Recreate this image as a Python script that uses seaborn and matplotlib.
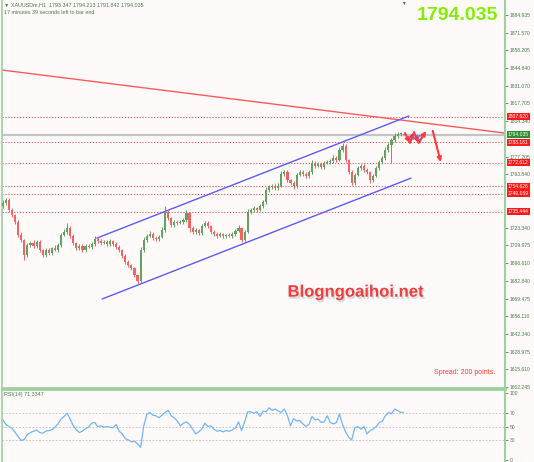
import numpy as np
import pandas as pd
import seaborn as sns
import matplotlib.pyplot as plt
import matplotlib.patheffects as pe
from matplotlib.transforms import blended_transform_factory


# XAUUSDm H1 closes
closes = [
    1742.1, 1744.3, 1736.7, 1732.9, 1727.6, 1717.7, 1713.9, 1702.5, 1710.1, 1711.7,
    1709.4, 1712.4, 1706.3, 1702.5, 1706.3, 1704.0, 1707.8, 1706.3, 1710.1, 1717.7,
    1720.0, 1723.0, 1717.0, 1711.7, 1707.8, 1709.4, 1706.3, 1709.4, 1708.6, 1710.9,
    1714.7, 1713.2, 1711.7, 1712.4, 1710.9, 1713.2, 1710.9, 1708.6, 1706.3, 1701.8,
    1697.2, 1694.9, 1692.6, 1687.3, 1682.8, 1706.3, 1713.9, 1717.0, 1718.5, 1715.5,
    1714.7, 1716.2, 1721.5, 1735.2, 1730.6, 1725.3, 1727.6, 1726.9, 1727.6, 1729.1,
    1734.4, 1723.0, 1720.0, 1721.5, 1719.3, 1724.6, 1726.9, 1724.6, 1720.0, 1718.5,
    1717.0, 1718.5, 1717.0, 1717.7, 1717.0, 1718.5, 1720.8, 1723.0, 1713.9, 1720.0,
    1735.2, 1736.7, 1738.2, 1736.7, 1739.8, 1742.8, 1751.9, 1754.2, 1755.0, 1753.5,
    1755.0, 1764.1, 1765.6, 1759.5, 1757.3, 1755.0, 1763.3, 1765.6, 1764.1, 1762.6,
    1765.6, 1772.5, 1770.2, 1771.7, 1769.4, 1772.5, 1773.2, 1774.0, 1776.3, 1774.7,
    1782.3, 1785.4, 1774.7, 1765.6, 1757.3, 1763.3, 1768.6, 1770.2, 1767.1, 1765.6,
    1759.5, 1762.6, 1768.6, 1773.2, 1776.3, 1782.3, 1786.1, 1789.9, 1793.0, 1794.5,
    1794.5, 1794.035,
]
first_open = 1740.0

upper_wick = [
    2.0, 1.5, 1.2, 1.5, 1.0, 1.5, 2.0, 1.2, 1.8, 1.5,
    2.0, 1.2, 1.5, 1.0, 1.8, 1.5, 1.2, 2.0, 1.5, 1.8,
    2.5, 4.0, 1.5, 1.2, 1.0, 1.5, 1.8, 1.2, 1.5, 1.2,
    2.5, 1.5, 1.2, 1.8, 1.2, 1.5, 1.0, 1.2, 1.5, 1.0,
    1.2, 1.5, 1.0, 1.2, 1.0, 2.0, 2.5, 1.5, 2.0, 1.2,
    1.5, 1.8, 2.0, 4.5, 1.5, 1.2, 1.5, 1.2, 1.8, 1.5,
    2.5, 1.2, 1.5, 1.2, 1.0, 1.8, 1.5, 1.2, 1.0, 1.5,
    1.2, 1.5, 1.0, 1.2, 1.5, 1.2, 1.8, 2.0, 1.2, 1.5,
    2.0, 1.5, 1.8, 1.2, 1.5, 1.8, 2.0, 1.5, 1.8, 1.2,
    2.0, 2.5, 1.5, 1.2, 1.0, 1.5, 1.8, 1.2, 1.5, 1.2,
    1.5, 2.0, 1.2, 1.5, 1.2, 1.5, 1.8, 1.2, 2.0, 1.5,
    2.0, 2.5, 1.2, 1.0, 1.2, 1.5, 1.8, 1.2, 1.5, 1.2,
    1.0, 1.5, 1.8, 1.5, 1.8, 2.0, 1.5, 1.8, 2.0, 1.5,
    1.5, 0.2,
]
lower_wick = [
    1.5, 1.2, 1.8, 1.5, 1.2, 1.5, 1.8, 3.8, 1.2, 1.5,
    1.2, 1.5, 1.8, 1.5, 1.2, 1.5, 1.2, 1.0, 1.5, 1.2,
    1.0, 1.2, 1.5, 1.8, 1.5, 1.2, 1.5, 1.2, 1.0, 1.5,
    1.2, 1.5, 1.2, 1.0, 1.5, 1.2, 1.5, 1.2, 1.5, 1.8,
    1.5, 1.2, 1.8, 1.5, 2.0, 1.2, 1.5, 1.2, 1.0, 1.5,
    1.2, 1.5, 1.0, 1.2, 1.5, 1.8, 1.2, 1.5, 1.0, 1.2,
    1.5, 3.0, 1.5, 1.2, 1.5, 1.2, 1.0, 1.5, 1.2, 1.5,
    1.2, 1.0, 1.5, 1.2, 1.0, 1.5, 1.2, 1.0, 1.5, 1.2,
    1.0, 1.5, 1.2, 1.5, 1.0, 1.2, 1.5, 1.2, 1.5, 1.2,
    1.5, 1.0, 1.2, 1.8, 1.5, 2.0, 1.2, 1.0, 1.5, 1.2,
    1.5, 1.2, 1.5, 1.0, 1.2, 1.5, 1.0, 1.2, 1.5, 1.2,
    1.0, 1.2, 1.5, 1.8, 1.6, 1.2, 1.0, 1.5, 1.2, 1.5,
    2.0, 1.2, 1.0, 1.2, 1.5, 1.2, 1.5, 14.0, 1.2, 1.5,
    1.2, 0.5,
]

rsi_values = [
    60, 53, 50, 47, 41, 35, 29, 31, 38, 41,
    43, 45, 41, 40, 43, 44, 45, 49, 54, 61,
    65, 70, 61, 51, 45, 41, 43, 47, 49, 55,
    56, 50, 51, 49, 50, 49, 48, 53, 43, 39,
    32, 30, 27, 28, 24, 19, 50, 68, 71, 67,
    66, 63, 67, 71, 74, 66, 63, 58, 51, 55,
    57, 53, 46, 39, 42, 46, 55, 50, 51, 46,
    43, 44, 42, 44, 43, 45, 48, 57, 44, 57,
    72, 72, 70, 72, 65, 73, 72, 78, 74, 76,
    73, 71, 76, 66, 51, 62, 58, 59, 54, 50,
    53, 65, 60, 61, 56, 57, 66, 56, 54, 56,
    69, 53, 42, 34, 30, 48, 50, 46, 50, 39,
    44, 46, 50, 56, 58, 66, 71, 69, 76, 74,
    71, 71.3347,
]

price_ticks = [1884.935, 1871.570, 1858.205, 1844.840, 1831.070, 1817.705,
               1804.340, 1777.205, 1763.840, 1723.340, 1709.975, 1696.610,
               1682.840, 1669.475, 1656.110, 1642.340, 1628.975, 1615.610,
               1602.245]
level_prices = [1807.620, 1788.181, 1772.612, 1754.626, 1749.069, 1735.444]
bid_price = 1794.035
rsi_ticks = [100, 70, 50, 30, 0]
rsi_levels = [70, 50, 30]

# drawn objects (bar index, price)
channel_top_x, channel_top_y = [30.7, 132.7], [1715.4, 1808.2]
channel_bot_x, channel_bot_y = [32.4, 133.4], [1669.1, 1761.0]
trend_x, trend_y = [-0.3, 164.1], [1843.1, 1795.2]
zigzag_x = [131.4, 133.0, 134.3, 135.9, 138.3]
zigzag_y = [1795.2, 1787.7, 1796.0, 1787.7, 1796.8]
drop_x, drop_y = [140.5, 143.1], [1796.8, 1773.2]

BG = '#fffafa'
BULL = '#62a362'
BEAR = '#f26464'
AXIS_GREEN = '#9fd09f'
TXT = '#4a7a4a'

sns.set_style('white', {'axes.facecolor': BG})
plt.rcParams['font.family'] = ['Liberation Sans', 'DejaVu Sans']

df = pd.DataFrame({'close': closes, 'hi_w': upper_wick, 'lo_w': lower_wick})
df['open'] = [first_open] + closes[:-1]
df['bar'] = np.arange(len(df))
df['top'] = df[['open', 'close']].max(axis=1)
df['bot'] = df[['open', 'close']].min(axis=1)
df['high'] = df.top + df.hi_w
df['low'] = df.bot - df.lo_w
colors = np.where(df.close >= df.open, BULL, BEAR)

fig = plt.figure(figsize=(5.34, 4.62), dpi=100, facecolor=BG)
W, H = 534, 462
ax = fig.add_axes([2 / W, 1 - 388 / H, 503 / W, 388 / H])
ax2 = fig.add_axes([2 / W, 0, 503 / W, 1 - 389 / H], sharex=ax)

# levels and objects
for lv in level_prices:
    ax.axhline(lv, color='#ff4a4a', lw=0.7, ls=(0, (1.2, 1.8)), zorder=1)
ax.axhline(bid_price, color='#c4c4c4', lw=1.6, zorder=1)
ax.plot(trend_x, trend_y, color='#ff5a5a', lw=1.0, zorder=2)
ax.plot(channel_top_x, channel_top_y, color='#5a5aff', lw=1.0, zorder=2)
ax.plot(channel_bot_x, channel_bot_y, color='#5a5aff', lw=1.0, zorder=2)

# candles
ax.vlines(df.bar, df.low, df.high, colors=colors, lw=0.7, zorder=3)
ax.bar(df.bar, (df.top - df.bot).clip(lower=0.5), bottom=df.bot, width=0.7,
       color=colors, linewidth=0, zorder=4)

# forecast arrows
arrow_kw = dict(arrowstyle='-|>', color='#ff3a3a', lw=1.5, mutation_scale=6,
                shrinkA=0, shrinkB=0)
for i in range(len(zigzag_x) - 1):
    ax.annotate('', xy=(zigzag_x[i + 1], zigzag_y[i + 1]),
                xytext=(zigzag_x[i], zigzag_y[i]), arrowprops=arrow_kw, zorder=5)
ax.annotate('', xy=(drop_x[1], drop_y[1]), xytext=(drop_x[0], drop_y[0]),
            arrowprops=arrow_kw, zorder=5)
ax.text(135.2, 1791.3, '1.75', color='#4b5cff', fontsize=4.8, style='italic',
        ha='center', va='center', zorder=6)

ax.set_xlim(-0.3, 164.1)
ax.set_ylim(1601.5, 1896.33)
ax.yaxis.tick_right()
ax.set_yticks(price_ticks)
ax.set_yticklabels([f'{t:.3f}' for t in price_ticks])
ax.tick_params(axis='y', labelsize=3.6, colors=TXT, length=2, width=0.6, pad=1.5)
ax.tick_params(axis='x', bottom=False, labelbottom=False)
ax.set_xlabel('')
ax.set_ylabel('')

# price labels on the axis
tr = blended_transform_factory(ax.transAxes, ax.transData)
for lv in level_prices:
    ax.text(1.006, lv, f'{lv:.3f}', transform=tr, fontsize=3.6, color='white',
            va='center', ha='left', clip_on=False, zorder=10,
            bbox=dict(facecolor='#ff1a1a', edgecolor='none', pad=0.8))
ax.text(1.006, bid_price, f'{bid_price:.3f}', transform=tr, fontsize=3.6,
        color='white', va='center', ha='left', clip_on=False, zorder=10,
        bbox=dict(facecolor='#2f8f2f', edgecolor='none', pad=0.8))

ax.spines['top'].set_visible(False)
ax.spines['left'].set_color(AXIS_GREEN)
ax.spines['left'].set_linewidth(1.2)
ax.spines['right'].set_color(AXIS_GREEN)
ax.spines['right'].set_linewidth(1.5)
ax.spines['bottom'].set_color(AXIS_GREEN)
ax.spines['bottom'].set_linewidth(2)

# watermark and texts
ax.text(0.702, 0.247, 'Blogngoaihoi.net', transform=ax.transAxes, fontsize=12,
        weight='bold', color='#ee3e3e', ha='center', va='center', zorder=6,
        path_effects=[pe.withSimplePatchShadow(offset=(1.0, -1.5),
                                               shadow_rgbFace='#888888', alpha=0.3)])
ax.text(0.980, 0.039, 'Spread: 200 points.', transform=ax.transAxes, fontsize=5,
        color='#ff3a3a', ha='right', va='center')

fig.text(4 / W, 1 - 5 / H, '\u25bc XAUUSDm,H1  1793.347 1794.213 1791.842 1794.035',
         fontsize=3.9, color=TXT, va='center', ha='left')
fig.text(4 / W, 1 - 13 / H, '17 minutes 39 seconds left to bar end',
         fontsize=3.9, color=TXT, va='center', ha='left')
fig.text(403 / W, 1 - 3 / H, '\u25bc', fontsize=3.5, color='#555555',
         ha='center', va='center')
fig.text(498 / W, 1 - 16 / H, '1794.035', fontsize=14, weight='bold',
         color='#80f000', ha='right', va='center')

# RSI panel
for lv in rsi_levels:
    ax2.axhline(lv, color='#bdbdbd', lw=0.6, ls=(0, (2, 2)), zorder=1)
sns.lineplot(x=df.bar, y=rsi_values, ax=ax2, color='#6fb6ff', lw=0.9, zorder=3)
ax2.set_ylim(-3, 106)
ax2.yaxis.tick_right()
ax2.set_yticks(rsi_ticks)
ax2.set_yticklabels([str(t) for t in rsi_ticks])
ax2.tick_params(axis='y', labelsize=3.6, colors=TXT, length=2, width=0.6, pad=1.5)
ax2.tick_params(axis='x', bottom=False, labelbottom=False)
ax2.set_xlabel('')
ax2.set_ylabel('')
ax2.spines['bottom'].set_visible(False)
ax2.spines['top'].set_color(AXIS_GREEN)
ax2.spines['top'].set_linewidth(2)
ax2.spines['left'].set_color(AXIS_GREEN)
ax2.spines['left'].set_linewidth(1.2)
ax2.spines['right'].set_color(AXIS_GREEN)
ax2.spines['right'].set_linewidth(1.5)
ax2.text(0.003, 0.93, 'RSI(14) 71.3347', transform=ax2.transAxes, fontsize=3.9,
         color=TXT, va='center', ha='left')

fig.savefig('out.png', dpi=100, facecolor=BG)
